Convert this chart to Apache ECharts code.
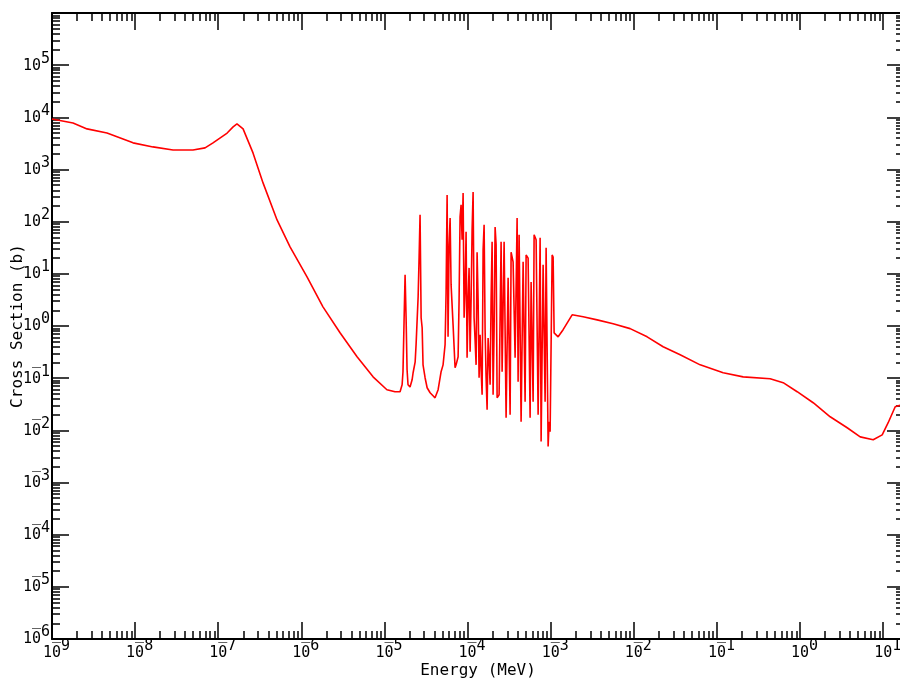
<!DOCTYPE html>
<html><head><meta charset="utf-8">
<script src="https://cdn.jsdelivr.net/npm/echarts@6/dist/echarts.min.js"></script>
<style>html,body{margin:0;padding:0;background:#fff}#chart{width:900px;height:681px}</style>
</head><body><div id="chart"></div>
<script>
// ---- data (energy in MeV, cross section in barns) ----
const energy = [
  1.0e-9, 1.79e-9, 2.64e-9, 4.59e-9, 9.44e-9, 1.64e-8, 2.86e-8, 4.97e-8, 6.94e-8, 8.65e-8,
  1.28e-7, 1.51e-7, 1.68e-7, 1.99e-7, 2.62e-7, 3.46e-7, 5.10e-7, 7.31e-7, 1.17e-6, 1.82e-6,
  2.92e-6, 4.68e-6, 7.29e-6, 1.07e-5, 1.34e-5,
  1.54e-5, 1.58e-5, 1.63e-5, 1.67e-5, 1.72e-5, 1.77e-5, 1.82e-5, 1.87e-5, 1.92e-5, 2.03e-5,
  2.15e-5, 2.21e-5, 2.34e-5, 2.40e-5, 2.54e-5, 2.61e-5, 2.68e-5, 2.76e-5, 2.84e-5, 2.91e-5,
  3.08e-5, 3.26e-5, 3.54e-5, 3.84e-5, 4.06e-5, 4.42e-5, 4.80e-5, 5.07e-5, 5.36e-5, 5.51e-5,
  5.67e-5, 5.82e-5, 5.99e-5, 6.16e-5, 6.33e-5, 6.69e-5, 7.07e-5, 7.27e-5, 7.69e-5, 7.90e-5,
  8.12e-5, 8.35e-5, 8.59e-5, 8.83e-5, 9.08e-5, 9.33e-5, 9.59e-5, 9.86e-5, 1.014e-4, 1.042e-4,
  1.072e-4, 1.102e-4, 1.133e-4, 1.165e-4, 1.197e-4, 1.231e-4, 1.266e-4, 1.301e-4, 1.338e-4, 1.375e-4,
  1.414e-4, 1.454e-4, 1.495e-4, 1.537e-4, 1.580e-4, 1.624e-4, 1.670e-4, 1.717e-4, 1.765e-4, 1.815e-4,
  1.866e-4, 1.918e-4, 1.972e-4, 2.027e-4, 2.084e-4, 2.143e-4, 2.203e-4, 2.265e-4, 2.394e-4, 2.530e-4,
  2.602e-4, 2.750e-4, 2.906e-4, 3.072e-4, 3.247e-4, 3.338e-4, 3.528e-4, 3.729e-4, 3.942e-4, 4.053e-4,
  4.166e-4, 4.404e-4, 4.656e-4, 4.920e-4, 5.058e-4, 5.346e-4, 5.651e-4, 5.810e-4, 6.141e-4, 6.313e-4,
  6.674e-4, 7.055e-4, 7.456e-4, 7.666e-4, 8.103e-4, 8.564e-4, 8.805e-4, 9.307e-4, 9.568e-4, 9.837e-4,
  1.040e-3, 1.069e-3, 1.099e-3,
  1.228e-3, 1.410e-3, 1.810e-3, 2.455e-3, 3.618e-3, 5.637e-3, 9.027e-3, 1.446e-2, 2.253e-2, 3.608e-2,
  6.281e-2, 0.1188, 0.2067, 0.4368, 0.626, 0.923, 1.438, 2.303, 3.689, 5.289,
  7.581, 9.727, 11.48, 13.95, 15.16, 17.8
];
const crossSection = [
  9.3e3, 7.8e3, 6.0e3, 5.0e3, 3.24e3, 2.71e3, 2.37e3, 2.37e3, 2.6e3, 3.24e3,
  5.0e3, 6.55e3, 7.48e3, 6.0e3, 2.08e3, 554, 108, 32.9, 8.77, 2.33,
  0.741, 0.257, 0.106, 0.060, 0.055,
  0.055, 0.055, 0.075, 0.133, 1.20, 9.6, 1.44, 0.145, 0.075, 0.068,
  0.093, 0.127, 0.206, 0.44, 3.6, 21, 135, 1.44, 0.92, 0.18,
  0.102, 0.0655, 0.0525, 0.046, 0.042, 0.060, 0.133, 0.18, 0.44, 4.3,
  326, 0.62, 36, 118, 6.2, 1.05, 0.158, 0.18, 0.257, 3.2,
  124, 210, 45, 356, 1.44, 4.9, 64, 0.246, 3.2, 13,
  0.32, 3.2, 70, 372, 1.44, 0.54, 0.18, 26, 3.2, 0.102,
  0.68, 0.145, 0.048, 29, 87, 0.85, 0.102, 0.0248, 0.59, 0.225,
  0.075, 3.2, 41, 0.048, 0.85, 79, 36, 0.042, 0.048, 41,
  0.133, 41, 0.0174, 8.4, 0.0199, 26, 17, 0.246, 118, 0.085,
  56, 0.0146, 17, 0.0353, 23, 20, 0.0174, 7.0, 0.0353, 56,
  45, 0.0199, 49, 0.0061, 15, 0.0353, 31.5, 0.0049, 0.0146, 0.0094,
  23, 21, 0.74,
  0.62, 0.85, 1.64, 1.50, 1.31, 1.10, 0.89, 0.62, 0.40, 0.28,
  0.18, 0.127, 0.106, 0.0975, 0.082, 0.055, 0.0338, 0.0182, 0.0112, 0.0075,
  0.0066, 0.0082, 0.0140, 0.0283, 0.0296, 0.031
];
const xTickExponents = [-9, -8, -7, -6, -5, -4, -3, -2, -1, 0, 1];
const yTickExponents = [-6, -5, -4, -3, -2, -1, 0, 1, 2, 3, 4, 5, 6];
const yLabelExponents = [-6, -5, -4, -3, -2, -1, 0, 1, 2, 3, 4, 5];
const xMin = 1e-9, xMax = 17.8, yMin = 1e-6, yMax = 1e6;
const xTitle = 'Energy (MeV)';
const yTitle = 'Cross Section (b)';

// ---- helpers ----
const FONT = 'DejaVu Sans Mono';
const FS = 15, CW = 9;
const lxMin = Math.log10(xMin), lxMax = Math.log10(xMax);
const lyMin = Math.log10(yMin), lyMax = Math.log10(yMax);
function minorLogs(exps, lo, hi) {
  const out = [];
  exps.forEach(e => { for (let k = 2; k <= 9; k++) { const v = e + Math.log10(k); if (v > lo && v < hi) out.push(v); } });
  return out;
}
const xMinor = minorLogs(xTickExponents, lxMin, lxMax);
const yMinor = minorLogs(yTickExponents, lyMin, lyMax);
function expLabel(v) {
  const e = Math.round(v);
  return '{b|10}{s|' + Math.abs(e) + '}';
}
const rich = {
  b: { fontFamily: FONT, fontSize: FS, lineHeight: 22, verticalAlign: 'bottom', color: '#000' },
  s: { fontFamily: FONT, fontSize: FS, lineHeight: 22, verticalAlign: 'top', color: '#000' },
  o: { fontFamily: FONT, fontSize: FS, lineHeight: 22, verticalAlign: 'middle', color: '#000' }
};
const barLabel = () => '{o|\u203E}';
const tickLine = { color: '#000', width: 1.5 };
function tickX(pos, vals, len, label, line) {
  return {
    type: 'value', position: pos, min: lxMin, max: lxMax,
    axisLine: { show: !!line, onZero: false, lineStyle: { color: '#000', width: 2 } },
    splitLine: { show: false },
    axisTick: { show: !!vals, inside: true, length: len, customValues: vals || [], lineStyle: tickLine },
    axisLabel: label || { show: false }
  };
}
function tickY(pos, vals, len, label, line) {
  return {
    type: 'value', position: pos, min: lyMin, max: lyMax,
    axisLine: { show: !!line, onZero: false, lineStyle: { color: '#000', width: 2 } },
    splitLine: { show: false },
    axisTick: { show: !!vals, inside: true, length: len, customValues: vals || [], lineStyle: tickLine },
    axisLabel: label || { show: false }
  };
}
const xLab = { show: true, customValues: xTickExponents, formatter: expLabel, rich: rich, margin: 0, padding: [0, 0, 0, CW] };
const xBar = { show: true, customValues: xTickExponents.filter(e => e < 0), formatter: barLabel, rich: rich, margin: 0, padding: [0, 0, 0, CW] };
const yLab = { show: true, customValues: yLabelExponents, formatter: expLabel, rich: rich, margin: 2, padding: [0, 0, 6, 0] };
const yBar = { show: true, customValues: yLabelExponents.filter(e => e < 0), formatter: barLabel, rich: rich, margin: 2, padding: [0, CW, 6, 0] };

const chart = echarts.init(document.getElementById('chart'), null, { renderer: 'canvas' });
chart.setOption({
  animation: false,
  backgroundColor: '#fff',
  grid: { left: 52, right: -4, top: 13, bottom: 42, containLabel: false, outerBoundsMode: 'none' },
  xAxis: [
    {
      type: 'log', logBase: 10, min: xMin, max: xMax, position: 'bottom',
      axisLine: { show: true, onZero: false, lineStyle: { color: '#000', width: 2 } },
      axisTick: { show: false }, axisLabel: { show: false }, splitLine: { show: false },
      name: xTitle, nameLocation: 'middle', nameGap: 24,
      nameTextStyle: { fontFamily: FONT, fontSize: 16, color: '#000' }
    },
    tickX('bottom', xTickExponents, 17, xLab, false),
    tickX('bottom', xMinor, 8, null, false),
    tickX('top', xTickExponents, 17, null, true),
    tickX('top', xMinor, 8, null, false),
    tickX('bottom', null, 0, xBar, false)
  ],
  yAxis: [
    {
      type: 'log', logBase: 10, min: yMin, max: yMax, position: 'left',
      axisLine: { show: true, onZero: false, lineStyle: { color: '#000', width: 2 } },
      axisTick: { show: false }, axisLabel: { show: false }, splitLine: { show: false },
      name: yTitle, nameLocation: 'middle', nameRotate: 90, nameGap: 26,
      nameTextStyle: { fontFamily: FONT, fontSize: 16, color: '#000' }
    },
    tickY('left', yTickExponents, 17, yLab, false),
    tickY('left', yMinor, 8, null, false),
    tickY('right', yTickExponents, 17, null, true),
    tickY('right', yMinor, 8, null, false),
    tickY('left', null, 0, yBar, false)
  ],
  series: [{
    type: 'line', xAxisIndex: 0, yAxisIndex: 0,
    data: energy.map((e, i) => [e, crossSection[i]]),
    showSymbol: false, symbol: 'none', silent: true, clip: true,
    lineStyle: { color: '#ff0000', width: 1.6 }
  }]
});
</script>
</body></html>
